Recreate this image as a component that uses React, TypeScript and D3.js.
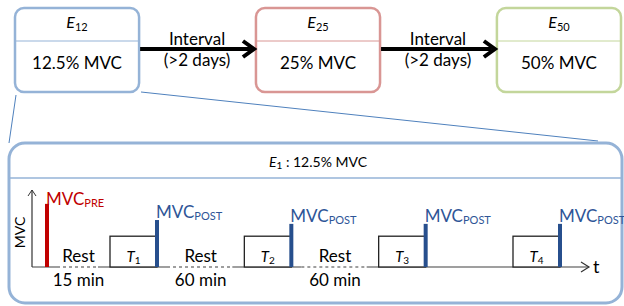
import React from 'react';
import * as d3 from 'd3';

// experiment sessions
const conditions = ['12', '25', '50'];
const loads = ['12.5% MVC', '25% MVC', '50% MVC'];
const conditionColors = ['#95b3d7', '#d99694', '#c3d69b'];
const intervalLabel = ['Interval', '(>2 days)'];

// timeline of one session
const trials = ['1', '2', '3', '4'];
const rests = ['15 min', '60 min', '60 min'];
const mvcPre = 82;
const mvcPost = [61, 56, 56, 56];
const trialLevel = 40;

const W = 624;
const H = 306;
const font = 'Lato, "Open Sans", sans-serif';

const App = () => {
  // top row
  const xTop = d3.scaleBand<string>()
    .domain(conditions)
    .range([15, 621])
    .paddingInner(0.485)
    .paddingOuter(0);
  const topY = 8;
  const topH = 84;
  const headY = 41;
  const arrowY = 49;

  // bottom timeline
  const x0 = 32;
  const base = 267;
  const y = d3.scaleLinear().domain([0, 100]).range([base, 190]);
  const xBar = d3.scalePoint<string>().domain(trials).range([157, 560]);
  const boxW = 47;
  const preX = x0 + 15;
  const tEnd = 589;
  const blue = '#274f8d';

  const restSeg = rests.map((r, i) => {
    const prev = i === 0 ? preX : xBar(trials[i - 1])!;
    const next = xBar(trials[i])! - boxW;
    return { label: r, x1: prev + 10, x2: next - 12, cx: (prev + next) / 2 };
  });

  return (
    <svg width={W} height={H} style={{ position: 'absolute', left: 0, top: 0 }} fontFamily={font}>
      <rect width={W} height={H} fill="#fff" />

      {/* connector lines */}
      <line x1={16} y1={95} x2={9} y2={143} stroke="#4f81bd" strokeWidth={1} />
      <line x1={141} y1={92} x2={598} y2={141} stroke="#4f81bd" strokeWidth={1} />

      {/* top boxes */}
      {conditions.map((c, i) => {
        const x = xTop(c)!;
        const w = xTop.bandwidth();
        return (
          <g key={c}>
            <rect x={x} y={topY} width={w} height={topH} rx={9} fill="#fff"
              stroke={conditionColors[i]} strokeWidth={2.5} />
            <line x1={x} x2={x + w} y1={headY} y2={headY} stroke={conditionColors[i]} strokeWidth={1} />
            <text x={x + w / 2} y={28} textAnchor="middle" fontSize={16}>
              <tspan fontStyle="italic">E</tspan>
              <tspan fontSize={11} dy={3}>{c}</tspan>
            </text>
            <text x={x + w / 2} y={69} textAnchor="middle" fontSize={17}>{loads[i]}</text>
          </g>
        );
      })}

      {/* interval arrows */}
      {conditions.slice(1).map((c, i) => {
        const xa = xTop(conditions[i])! + xTop.bandwidth() + 1;
        const xb = xTop(c)! - 2;
        const cx = (xa + xb) / 2;
        return (
          <g key={'a' + c}>
            <line x1={xa} x2={xb - 3} y1={arrowY} y2={arrowY} stroke="#000" strokeWidth={4} />
            <path d={`M${xb - 11},${arrowY - 8}L${xb},${arrowY}L${xb - 11},${arrowY + 8}`}
              fill="none" stroke="#000" strokeWidth={4} />
            <text x={cx} y={45} textAnchor="middle" fontSize={17}>{intervalLabel[0]}</text>
            <text x={cx} y={66} textAnchor="middle" fontSize={17}>{intervalLabel[1]}</text>
          </g>
        );
      })}

      {/* detail box */}
      <rect x={9} y={143} width={613} height={160} rx={16} fill="none" stroke="#95b3d7" strokeWidth={3} />
      <line x1={9} x2={622} y1={178} y2={178} stroke="#95b3d7" strokeWidth={1.5} />
      <text x={318} y={167} textAnchor="middle" fontSize={14}>
        <tspan fontStyle="italic">E</tspan>
        <tspan fontSize={10} dy={2}>1</tspan>
        <tspan dy={-2}> : {loads[0]}</tspan>
      </text>

      {/* baseline */}
      <line x1={x0} x2={tEnd} y1={base} y2={base} stroke="#7f7f7f" strokeWidth={1.5} />
      {restSeg.map((r, i) => (
        <g key={'r' + i}>
          <line x1={r.x1} x2={r.x2} y1={base} y2={base} stroke="#fff" strokeWidth={3} />
          <line x1={r.x1} x2={r.x2} y1={base} y2={base} stroke="#7f7f7f" strokeWidth={1.5} strokeDasharray="3,3" />
          <text x={r.cx} y={262} textAnchor="middle" fontSize={17}>Rest</text>
          <text x={r.cx} y={286} textAnchor="middle" fontSize={17}>{r.label}</text>
        </g>
      ))}
      <path d={`M${tEnd - 8},${base - 5}L${tEnd},${base}L${tEnd - 8},${base + 5}`} fill="none" stroke="#333" strokeWidth={1.2} />
      <text x={593} y={273} fontSize={18}>t</text>

      {/* y axis */}
      <line x1={x0} x2={x0} y1={base} y2={y(100)} stroke="#333" strokeWidth={1.2} />
      <path d={`M${x0 - 4},${y(100) + 6}L${x0},${y(100)}L${x0 + 4},${y(100) + 6}`} fill="none" stroke="#333" strokeWidth={1} />
      <text transform={`translate(25,${y(45)}) rotate(-90)`} textAnchor="middle" fontSize={14}>MVC</text>

      {/* pre MVC */}
      <rect x={preX - 2} y={y(mvcPre)} width={4} height={base - y(mvcPre)} fill="#c00000" />
      <text x={preX - 1} y={y(mvcPre) + 1} fill="#c00000" fontSize={17}>
        MVC<tspan fontSize={11} dy={2}>PRE</tspan>
      </text>

      {/* trials */}
      {trials.map((t, i) => {
        const xb = xBar(t)!;
        const top = y(mvcPost[i]);
        return (
          <g key={'t' + t}>
            <rect x={xb - boxW} y={y(trialLevel)} width={boxW} height={base - y(trialLevel)}
              fill="#fff" stroke="#222" strokeWidth={1.3} />
            <text x={xb - boxW / 2} y={262} textAnchor="middle" fontSize={15}>
              <tspan fontStyle="italic">T</tspan>
              <tspan fontSize={10} dy={2}>{t}</tspan>
            </text>
            <rect x={xb - 2} y={top} width={4} height={base - top} fill={blue} />
            <text x={xb - 1} y={top - 2} fill="#2e5597" fontSize={17}>
              MVC<tspan fontSize={11} dy={2}>POST</tspan>
            </text>
          </g>
        );
      })}
    </svg>
  );
};

export default App;
